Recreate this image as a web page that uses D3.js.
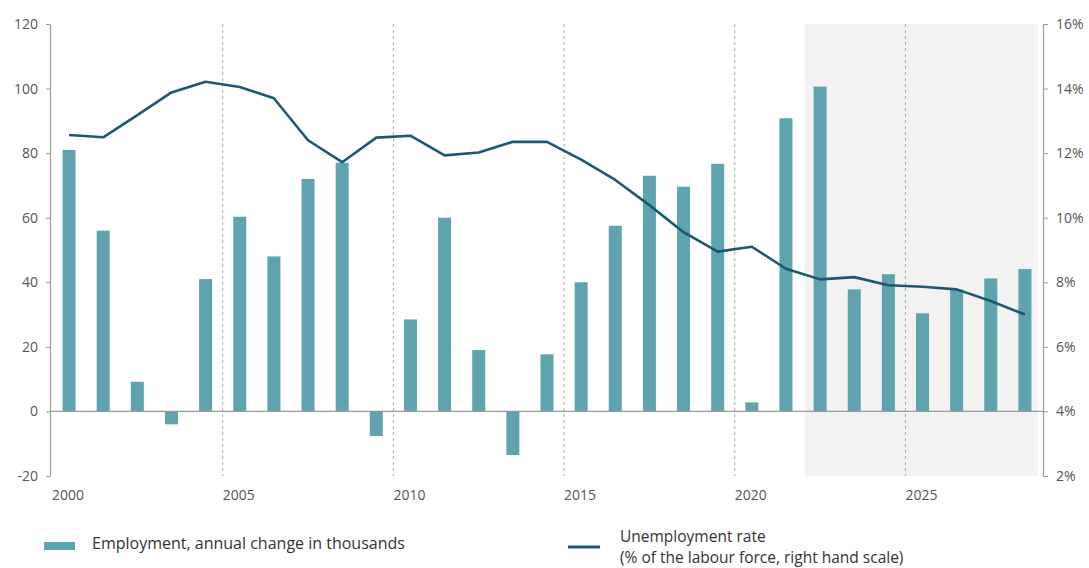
<!DOCTYPE html>
<html><head><meta charset="utf-8">
<script src="https://cdn.jsdelivr.net/npm/d3@7"></script>
<style>body{margin:0;background:#fff}svg{display:block}text{font-family:"Open Sans",sans-serif}</style>
</head><body><svg id="c" width="1089" height="568"></svg>
<script>
const years = d3.range(2000, 2029);
const employment = [81, 56, 9.2, -4, 41, 60.3, 48, 72, 77, -7.6, 28.5, 60, 19, -13.5, 17.7, 40, 57.5, 73, 69.6, 76.7, 2.8, 90.8, 100.6, 37.8, 42.5, 30.4, 37.8, 41.2, 44.1];
const unemployment = [12.56, 12.49, 13.18, 13.88, 14.21, 14.05, 13.70, 12.40, 11.72, 12.48, 12.54, 11.93, 12.02, 12.35, 12.35, 11.80, 11.17, 10.39, 9.55, 8.95, 9.10, 8.42, 8.09, 8.16, 7.91, 7.86, 7.78, 7.42, 7.0];
const leftTicks = [-20, 0, 20, 40, 60, 80, 100, 120];
const rightTicks = [2, 4, 6, 8, 10, 12, 14, 16];
const labelYears = [2000, 2005, 2010, 2015, 2020, 2025];
const dividerYears = [2005, 2010, 2015, 2020, 2025];
const forecastStart = 2022;
const legendItems = ["Employment, annual change in thousands", "Unemployment rate", "(% of the labour force, right hand scale)"];

const svg = d3.select("#c");
const L = 50, R = 1043, T = 24, B = 476;
const x = d3.scaleLinear().domain([1999.5, 2028.5]).range([52, 1042]);
const yL = d3.scaleLinear().domain([-20, 120]).range([B, T]);
const yR = d3.scaleLinear().domain([2, 16]).range([B, T]);
const barColor = "#5fa3ae", lineColor = "#1e5870", axisColor = "#9a9a9a", textColor = "#555";

// forecast shading
svg.append("rect").attr("x", x(forecastStart - 0.45)).attr("y", T)
  .attr("width", x(2028.38) - x(forecastStart - 0.45)).attr("height", B - T).attr("fill", "#f2f2f2");

// dashed dividers
svg.selectAll(".div").data(dividerYears).join("line")
  .attr("x1", d => x(d - 0.5)).attr("x2", d => x(d - 0.5)).attr("y1", T).attr("y2", B)
  .attr("stroke", "#aaa").attr("stroke-width", 1).attr("stroke-dasharray", "3,3");

// bars
const bw = 13;
svg.selectAll(".bar").data(years).join("rect")
  .attr("x", (d) => x(d) - bw / 2).attr("width", bw)
  .attr("y", (d, i) => yL(Math.max(0, employment[i])))
  .attr("height", (d, i) => Math.abs(yL(employment[i]) - yL(0)))
  .attr("fill", barColor);

// zero line
svg.append("line").attr("x1", L).attr("x2", R).attr("y1", yL(0)).attr("y2", yL(0))
  .attr("stroke", axisColor).attr("stroke-width", 1.2);

// line
const line = d3.line().x((d, i) => x(years[i])).y(d => yR(d));
svg.append("path").datum(unemployment).attr("d", line).attr("fill", "none")
  .attr("stroke", lineColor).attr("stroke-width", 2.6).attr("stroke-linejoin", "round");

// axes
const gl = svg.append("g").attr("transform", `translate(${L},0)`)
  .call(d3.axisLeft(yL).tickValues(leftTicks).tickSize(4).tickPadding(8).tickSizeOuter(0).tickFormat(d => String(d)));
const gr = svg.append("g").attr("transform", `translate(${R},0)`)
  .call(d3.axisRight(yR).tickValues(rightTicks).tickSize(5).tickPadding(8).tickSizeOuter(0).tickFormat(d => d + "%"));
[gl, gr].forEach(g => {
  g.select(".domain").attr("stroke", axisColor).attr("stroke-width", 1.2);
  g.selectAll(".tick line").attr("stroke", axisColor);
  g.selectAll("text").attr("fill", textColor).style("font-size", "14px").style("font-family", "'Open Sans', sans-serif");
});

// x labels
svg.selectAll(".xl").data(labelYears).join("text")
  .attr("x", d => x(d - 0.5)).attr("y", 500).attr("text-anchor", "start")
  .attr("fill", textColor).style("font-size", "14px").text(d => d);

// legend
svg.append("rect").attr("x", 44).attr("y", 542).attr("width", 31).attr("height", 8).attr("fill", barColor);
svg.append("text").attr("x", 92).attr("y", 549).attr("fill", "#333").style("font-size", "16px").text(legendItems[0]);
svg.append("line").attr("x1", 568).attr("x2", 600).attr("y1", 547).attr("y2", 547).attr("stroke", lineColor).attr("stroke-width", 3);
svg.append("text").attr("x", 620).attr("y", 542).attr("fill", "#333").style("font-size", "15.5px").text(legendItems[1]);
svg.append("text").attr("x", 620).attr("y", 563).attr("fill", "#333").style("font-size", "15.5px").text(legendItems[2]);
</script></body></html>
